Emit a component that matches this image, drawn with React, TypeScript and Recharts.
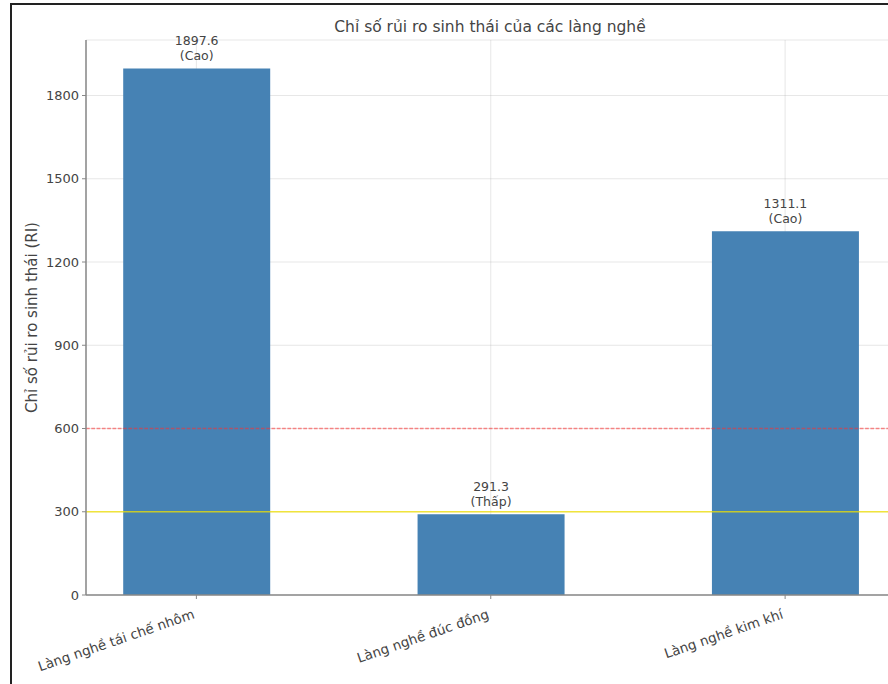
import React from 'react';
import { BarChart, Bar, XAxis, YAxis, CartesianGrid, ReferenceLine, LabelList } from 'recharts';

// Làng nghề và chỉ số RI
const villages = ['Làng nghề tái chế nhôm', 'Làng nghề đúc đồng', 'Làng nghề kim khí'];
const riValues = [1897.6, 291.3, 1311.1];
const riLevels = ['Cao', 'Thấp', 'Cao'];
const yTicks = [0, 300, 600, 900, 1200, 1500, 1800];
const thresholdHigh = 600;
const thresholdLow = 300;

const data = villages.map((name, i) => ({
    idx: i,
    name,
    value: riValues[i],
    level: riLevels[i],
}));

const TEXT = '#444';
const FONT = '"DejaVu Sans", sans-serif';

const renderXTick = (props: any) => {
    const { x, y, payload } = props;
    const tx = x - 1;
    const ty = y + 17;
    return (
        <text
            x={tx}
            y={ty}
            transform={`rotate(-19, ${tx}, ${ty})`}
            textAnchor="end"
            fontSize={13.5}
            fill={TEXT}
            fontFamily={FONT}
        >
            {villages[payload.value]}
        </text>
    );
};

const renderBarLabel = (props: any) => {
    const { x, y, width, index } = props;
    const cx = x + width / 2;
    return (
        <text x={cx} textAnchor="middle" fontSize={12.5} fill={TEXT} fontFamily={FONT}>
            <tspan x={cx} y={y - 23}>{riValues[index].toFixed(1)}</tspan>
            <tspan x={cx} y={y - 8}>({riLevels[index]})</tspan>
        </text>
    );
};

const renderYLabel = (props: any) => {
    const { viewBox } = props;
    const cy = viewBox.y + viewBox.height / 2;
    return (
        <text
            x={32}
            y={cy}
            transform={`rotate(-90, 32, ${cy})`}
            textAnchor="middle"
            dominantBaseline="central"
            fontSize={15}
            fill={TEXT}
            fontFamily={FONT}
        >
            Chỉ số rủi ro sinh thái (RI)
        </text>
    );
};

export default function App() {
    return (
        <div
            style={{
                position: 'absolute',
                left: 0,
                top: 0,
                width: 888,
                height: 684,
                overflow: 'hidden',
                background: '#fff',
                fontFamily: FONT,
            }}
        >
            <div style={{ position: 'absolute', left: 0, top: 0 }}>
                <BarChart
                    width={900}
                    height={684}
                    data={data}
                    margin={{ top: 40, right: 4.5, bottom: 0, left: 26 }}
                >
                    <XAxis
                        type="number"
                        dataKey="idx"
                        domain={[-0.375, 2.375]}
                        ticks={[0, 1, 2]}
                        interval={0}
                        height={89}
                        tickSize={4}
                        tick={renderXTick}
                        axisLine={{ stroke: '#888', strokeWidth: 1.5 }}
                        tickLine={{ stroke: '#888' }}
                    />
                    <YAxis
                        type="number"
                        domain={[0, 2000]}
                        ticks={yTicks}
                        interval={0}
                        width={60}
                        tickSize={4}
                        tickMargin={3}
                        tick={{ fontSize: 13, fill: TEXT, fontFamily: FONT }}
                        axisLine={{ stroke: '#888', strokeWidth: 1.5 }}
                        tickLine={{ stroke: '#888' }}
                        label={{ content: renderYLabel }}
                    />
                    <Bar dataKey="value" fill="#4682b4" barSize={147} isAnimationActive={false}>
                        <LabelList dataKey="value" content={renderBarLabel} />
                    </Bar>
                    <CartesianGrid stroke="#b0b0b0" strokeOpacity={0.3} />
                    <ReferenceLine
                        y={thresholdHigh}
                        stroke="#ff3030"
                        strokeOpacity={0.55}
                        strokeDasharray="3.7 1.6"
                        strokeWidth={1.3}
                    />
                    <ReferenceLine y={thresholdLow} stroke="#f0e000" strokeOpacity={0.75} strokeWidth={1.4} />
                </BarChart>
            </div>
            <div
                style={{
                    position: 'absolute',
                    left: 290,
                    width: 400,
                    top: 17,
                    textAlign: 'center',
                    fontSize: 15.5,
                    color: TEXT,
                    lineHeight: '20px',
                }}
            >
                Chỉ số rủi ro sinh thái của các làng nghề
            </div>
            <div
                style={{
                    position: 'absolute',
                    left: 10,
                    top: 3,
                    width: 1000,
                    height: 1000,
                    borderLeft: '2px solid #222',
                    borderTop: '2px solid #222',
                }}
            />
        </div>
    );
}
